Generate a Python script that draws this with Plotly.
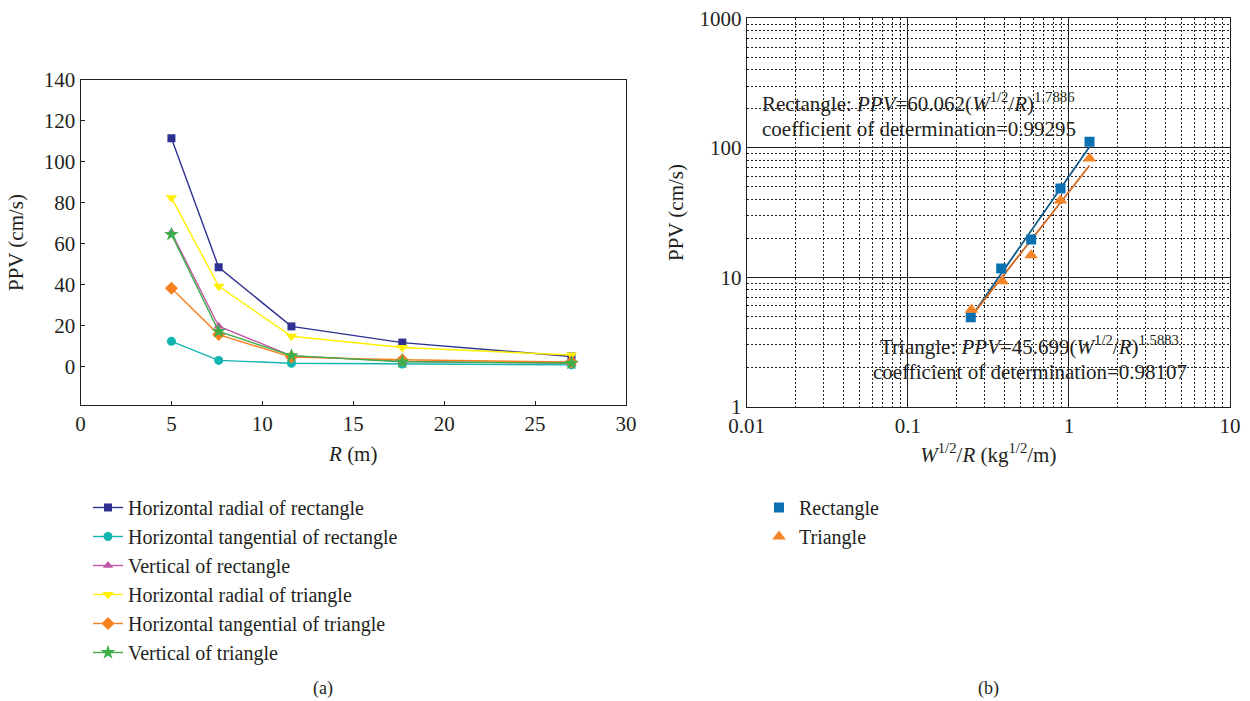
import plotly.graph_objects as go

W, H = 1250, 701
FONT = "Liberation Serif"
INK = "#231F20"

# ---- panel (a): PPV versus distance R ----
r_m = [5, 7.6, 11.6, 17.7, 27]
radial_rect = [111.5, 48.5, 19.6, 11.7, 4.9]
tangential_rect = [12.3, 3.0, 1.6, 1.2, 0.8]
vertical_rect = [65.5, 19.7, 5.2, 2.5, 1.6]
radial_tri = [82.5, 39.2, 14.8, 9.3, 5.6]
tangential_tri = [38.3, 15.6, 4.6, 3.3, 2.2]
vertical_tri = [64.6, 17.2, 5.3, 2.3, 1.7]

series_a = [
    ("Horizontal radial of rectangle", radial_rect, "#2E3192", "square", 8),
    ("Horizontal tangential of rectangle", tangential_rect, "#12B5B0", "circle", 9),
    ("Vertical of rectangle", vertical_rect, "#C055A6", "triangle-up", 9),
    ("Horizontal radial of triangle", radial_tri, "#FFF000", "triangle-down", 10),
    ("Horizontal tangential of triangle", tangential_tri, "#F6821F", "diamond", 10),
    ("Vertical of triangle", vertical_tri, "#3DAE49", "star", 11),
]

# ---- panel (b): PPV versus scaled distance W^1/2/R (same order as r_m) ----
sd_rect = [1.343, 0.887, 0.583, 0.380, 0.246]
ppv_rect = radial_rect
sd_tri = [1.343, 0.887, 0.583, 0.386, 0.248]
ppv_tri = radial_tri
fit_rect = (60.062, 1.7886)
fit_tri = (45.699, 1.5883)

fig = go.Figure()

for name, ys, color, sym, size in series_a:
    fig.add_trace(go.Scatter(
        x=r_m, y=ys, name=name, mode="lines+markers",
        line=dict(color=color, width=1.4),
        marker=dict(symbol=sym, size=size, color=color),
        xaxis="x", yaxis="y", legend="legend",
    ))


def fit_line(xs, k, a):
    lo, hi = min(xs), max(xs)
    return [lo, hi], [k * lo ** a, k * hi ** a]


fx, fy = fit_line(sd_rect, *fit_rect)
fig.add_trace(go.Scatter(x=fx, y=fy, mode="lines", line=dict(color="#0D5A8A", width=1.8),
                         showlegend=False, xaxis="x2", yaxis="y2"))
fx, fy = fit_line(sd_tri, *fit_tri)
fig.add_trace(go.Scatter(x=fx, y=fy, mode="lines", line=dict(color="#D4671E", width=1.8),
                         showlegend=False, xaxis="x2", yaxis="y2"))

fig.add_trace(go.Scatter(x=sd_rect, y=ppv_rect, name="Rectangle", mode="markers",
                         marker=dict(symbol="square", size=10, color="#0A70B0"),
                         xaxis="x2", yaxis="y2", legend="legend2"))
fig.add_trace(go.Scatter(x=sd_tri, y=ppv_tri, name="Triangle", mode="markers",
                         marker=dict(symbol="triangle-up", size=12, color="#F58426"),
                         xaxis="x2", yaxis="y2", legend="legend2"))


def px(x):
    return x / W


def py(y):
    return 1 - y / H


FS = 21
LFS = 20
tickfont = dict(family=FONT, size=FS, color=INK)
axis_common = dict(showline=True, linecolor=INK, linewidth=1.2, mirror=True,
                   tickfont=tickfont, zeroline=False, automargin=False)
grid_b = dict(ticks="", showgrid=True, gridcolor=INK, gridwidth=1.4,
              minor=dict(dtick="D1", showgrid=True, gridcolor=INK, griddash="2px,2px",
                         gridwidth=1, ticks=""))

fig.update_layout(
    width=W, height=H,
    margin=dict(l=0, r=0, t=0, b=0),
    paper_bgcolor="white", plot_bgcolor="white",
    font=dict(family=FONT, size=FS, color=INK),
    xaxis=dict(domain=[px(80.5), px(626)], range=[0, 30], tickvals=[0, 5, 10, 15, 20, 25, 30],
               ticks="inside", ticklen=4, tickcolor=INK, showgrid=False,
               title=dict(text="<i>R</i> (m)", font=dict(family=FONT, size=FS), standoff=11),
               anchor="y", **axis_common),
    yaxis=dict(domain=[py(405), py(80)], range=[-18.8, 140],
               tickvals=[0, 20, 40, 60, 80, 100, 120, 140],
               ticks="inside", ticklen=4, tickcolor=INK, showgrid=False,
               title=dict(text="PPV (cm/s)", font=dict(family=FONT, size=FS), standoff=14),
               anchor="x", **axis_common),
    xaxis2=dict(domain=[px(746.7), px(1230)], type="log", range=[-2, 1],
                tickvals=[0.01, 0.1, 1, 10], ticktext=["0.01", "0.1", "1", "10"],
                title=dict(text="<i>W</i><sup>1/2</sup>/<i>R</i> (kg<sup>1/2</sup>/m)",
                           font=dict(family=FONT, size=FS), standoff=10),
                anchor="y2", **grid_b, **axis_common),
    yaxis2=dict(domain=[py(406.7), py(18.3)], type="log", range=[0, 3],
                tickvals=[1, 10, 100, 1000], ticktext=["1", "10", "100", "1000"],
                title=dict(text="PPV (cm/s)", font=dict(family=FONT, size=FS), standoff=10),
                anchor="x2", **grid_b, **axis_common),
    legend=dict(x=px(88), y=py(488), xanchor="left", yanchor="top",
                font=dict(family=FONT, size=LFS), bgcolor="rgba(0,0,0,0)",
                tracegroupgap=0, itemwidth=30),
    legend2=dict(x=px(759), y=py(488), xanchor="left", yanchor="top",
                 font=dict(family=FONT, size=LFS), bgcolor="rgba(0,0,0,0)",
                 tracegroupgap=0, itemwidth=30),
    showlegend=True,
)

notes = [
    (760, 103, "Rectangle: <i>PPV</i>=60.062(<i>W</i><sup>1/2</sup>/<i>R</i>)<sup>1.7886</sup>"),
    (760, 129, "coefficient of determination=0.99295"),
    (878, 345, "Triangle: <i>PPV</i>=45.699(<i>W</i><sup>1/2</sup>/<i>R</i>)<sup>1.5883</sup>"),
    (871, 372, "coefficient of determination=0.98107"),
]
for x, y, t in notes:
    fig.add_annotation(x=px(x), y=py(y), xref="paper", yref="paper", text=t,
                       showarrow=False, xanchor="left", yanchor="middle",
                       font=dict(family=FONT, size=FS, color=INK))

for x, t in [(323, "(a)"), (988, "(b)")]:
    fig.add_annotation(x=px(x), y=py(688), xref="paper", yref="paper", text=t,
                       showarrow=False, xanchor="center", yanchor="middle",
                       font=dict(family=FONT, size=18, color=INK))

fig.write_html("out.html")
